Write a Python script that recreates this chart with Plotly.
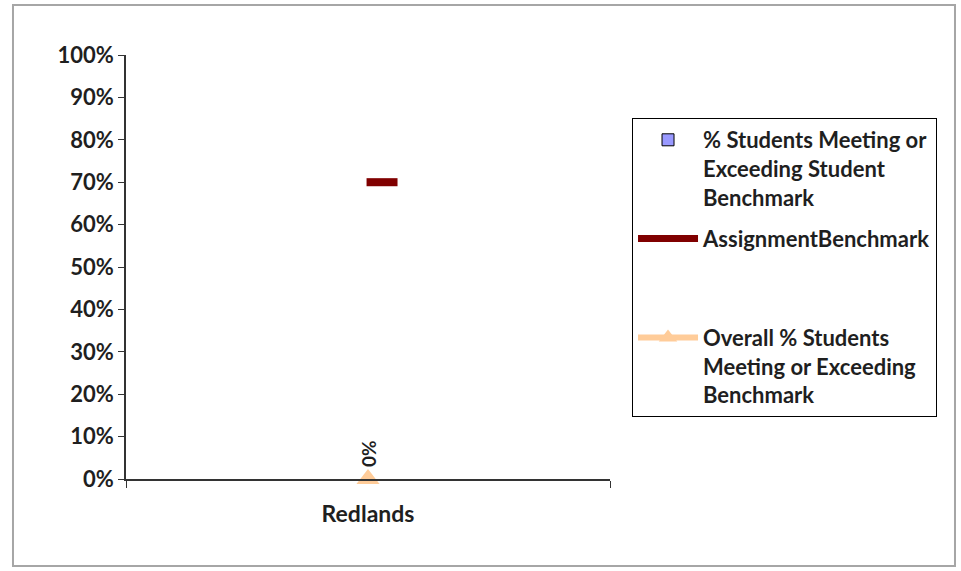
import plotly.graph_objects as go

categories = ["Redlands"]
students_pct = [0.0]
assignment_benchmark = [0.70]
overall_pct = [0.0]
overall_labels = ["0%"]
y_ticks = [0, 0.1, 0.2, 0.3, 0.4, 0.5, 0.6, 0.7, 0.8, 0.9, 1.0]
y_tick_labels = ["0%", "10%", "20%", "30%", "40%", "50%", "60%", "70%", "80%", "90%", "100%"]

FONT = "Lato"
TXT = "#1f1f1f"
thick = 0.019

fig = go.Figure()

# student bars (value drawn without outline so a zero bar stays invisible)
fig.add_trace(go.Bar(
    x=categories, y=students_pct,
    marker=dict(color="#9999FF", line=dict(width=0)),
    width=0.5, legendgroup="g1", showlegend=False,
))
fig.add_trace(go.Bar(
    x=categories, y=[None] * len(categories),
    name="% Students Meeting or<br>Exceeding Student<br>Benchmark",
    marker=dict(color="#9999FF", line=dict(color="#000000", width=1)),
    width=0.5, legendgroup="g1", hoverinfo="skip",
))

# benchmark dash (drawn as a thin floating bar)
fig.add_trace(go.Bar(
    x=categories, y=[thick] * len(assignment_benchmark),
    base=[b - thick / 2 for b in assignment_benchmark],
    width=0.064, offset=-0.003,
    marker=dict(color="#800000", line=dict(width=0)),
    showlegend=False, hoverinfo="skip", legendgroup="g2",
))
fig.add_trace(go.Scatter(
    x=[None], y=[None], mode="lines",
    name="AssignmentBenchmark<br> <br> ",
    line=dict(color="#800000", width=7), legendgroup="g2",
))

fig.add_trace(go.Scatter(
    x=categories, y=overall_pct, mode="lines+markers",
    name="Overall % Students<br>Meeting or Exceeding<br>Benchmark",
    line=dict(color="#FFCC99", width=6),
    marker=dict(symbol="triangle-up", size=20, color="#FFCC99"),
    cliponaxis=False, legendgroup="g3",
))

for c, v, t in zip(categories, overall_pct, overall_labels):
    fig.add_annotation(x=c, y=v, text=t, showarrow=False, textangle=-90,
                       yshift=25, font=dict(family=FONT, size=19, color=TXT, weight="bold"))

# outer chart border
fig.add_shape(type="rect", xref="paper", yref="paper",
              x0=-0.2335, x1=1.7128, y0=-0.2052, y1=1.1179,
              line=dict(color="#a6a6a6", width=2), layer="below")

fig.update_layout(
    width=961, height=571,
    margin=dict(l=126, r=351, t=55, b=92),
    paper_bgcolor="white", plot_bgcolor="white",
    barmode="overlay",
    font=dict(family=FONT, color=TXT),
    showlegend=True,
    legend=dict(
        x=1.0455, y=0.8514, xanchor="left", yanchor="top",
        bordercolor="#000000", borderwidth=1, bgcolor="white",
        font=dict(family=FONT, size=22, color=TXT, weight="bold"),
        valign="top", itemwidth=60, traceorder="grouped", tracegroupgap=10,
    ),
    xaxis=dict(
        type="category", tickson="boundaries", ticks="outside", ticklen=7,
        tickcolor="#333", showline=True, linecolor="#333", linewidth=1.5,
        showgrid=False, tickfont=dict(family=FONT, size=23, color=TXT, weight="bold"),
        range=[-0.5, 0.5], ticklabelstandoff=14,
    ),
    yaxis=dict(
        range=[0, 1], tickvals=y_ticks, ticktext=y_tick_labels,
        ticks="outside", ticklen=6, tickcolor="#333",
        showline=True, linecolor="#333", linewidth=1.5, showgrid=False,
        zeroline=False,
        tickfont=dict(family=FONT, size=22, color=TXT, weight="bold"),
    ),
)

fig.write_html("out.html", config={"displayModeBar": False},
               post_script="document.body.style.margin='0';")
